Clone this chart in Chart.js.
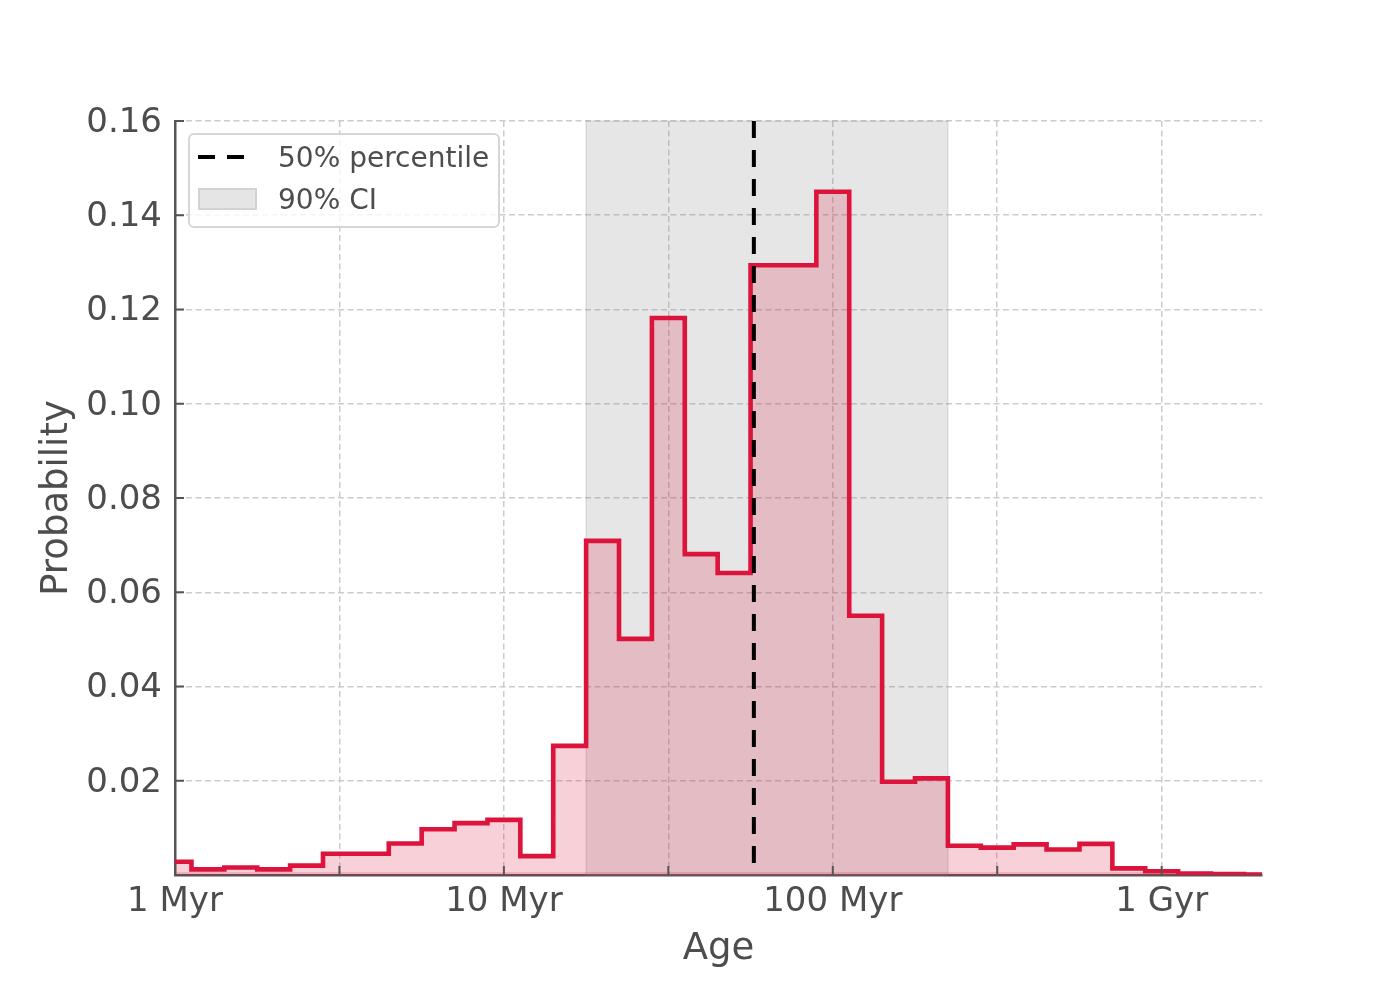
<!DOCTYPE html>
<html>
<head>
<meta charset="utf-8">
<script src="https://cdn.jsdelivr.net/npm/chart.js@4.4.0/dist/chart.umd.min.js"></script>
<style>
  html, body { margin: 0; padding: 0; background: #fff; }
  #wrap { width: 1400px; height: 1000px; }
</style>
</head>
<body>
<div id="wrap"><canvas id="ageChart"></canvas></div>
<script>
/* ===== DATA ===== */

// log10(age / yr) at the centre of each 0.1 dex bin
const logAgeBins = [
  6.0, 6.1, 6.2, 6.3, 6.4, 6.5, 6.6, 6.7, 6.8, 6.9,
  7.0, 7.1, 7.2, 7.3, 7.4, 7.5, 7.6, 7.7, 7.8, 7.9,
  8.0, 8.1, 8.2, 8.3, 8.4, 8.5, 8.6, 8.7, 8.8, 8.9,
  9.0, 9.1, 9.2, 9.3,
];

// probability per bin
const probability = [
  0.0028, 0.0012, 0.0016, 0.0012, 0.0020, 0.0045, 0.0045, 0.0067, 0.0097, 0.0110,
  0.0117, 0.0040, 0.0274, 0.0709, 0.0501, 0.1182, 0.0681, 0.0641, 0.1294, 0.1294,
  0.1450, 0.0550, 0.0198, 0.0205, 0.0062, 0.0058, 0.0065, 0.0054, 0.0066, 0.0014,
  0.0008, 0.0003, 0.0002, 0.0001,
];

const binHalfWidth = 0.05;
const medianLogAge = 7.76;
const ciLogAge = [7.25, 8.35];

const xRange = [6, 9.305];
const xTickValues = [6, 6.5, 7, 7.5, 8, 8.5, 9];
const xTickLabels = { 6: '1 Myr', 7: '10 Myr', 8: '100 Myr', 9: '1 Gyr' };
const yTickValues = [0, 0.02, 0.04, 0.06, 0.08, 0.10, 0.12, 0.14, 0.16];

/* ===== STYLE ===== */

const FONT_FAMILY = '"DejaVu Sans", sans-serif';
const TEXT_COLOR = '#4d4d4d';
const GRID_COLOR = '#cccccc';
const SPINE_COLOR = '#555555';
const HIST_COLOR = '#dc143c';

/* ===== PLUGINS ===== */

// 90% CI band behind the histogram
const ciSpanPlugin = {
  id: 'ciSpan',
  beforeDatasetsDraw(chart) {
    const { ctx, chartArea, scales: { x } } = chart;
    const x0 = x.getPixelForValue(ciLogAge[0]);
    const x1 = x.getPixelForValue(ciLogAge[1]);
    ctx.save();
    ctx.fillStyle = 'rgba(128,128,128,0.2)';
    ctx.fillRect(x0, chartArea.top, x1 - x0, chartArea.height);
    ctx.strokeStyle = 'rgba(128,128,128,0.2)';
    ctx.lineWidth = 1.5;
    ctx.strokeRect(x0, chartArea.top, x1 - x0, chartArea.height);
    ctx.restore();
  }
};

// thin darker strip along the bottom of the filled histogram
const histBaseStrip = {
  id: 'histBaseStrip',
  afterDatasetsDraw(chart) {
    const { ctx, chartArea } = chart;
    ctx.save();
    ctx.fillStyle = 'rgba(220,20,60,0.18)';
    ctx.fillRect(chartArea.left, chartArea.bottom - 3, chartArea.width, 3);
    ctx.restore();
  }
};

// inward tick marks (matplotlib style)
const innerTicksPlugin = {
  id: 'innerTicks',
  afterDatasetsDraw(chart) {
    const { ctx, chartArea, scales: { x, y } } = chart;
    ctx.save();
    ctx.strokeStyle = SPINE_COLOR;
    ctx.lineWidth = 2;
    ctx.beginPath();
    xTickValues.forEach(v => {
      const px = x.getPixelForValue(v);
      ctx.moveTo(px, chartArea.bottom);
      ctx.lineTo(px, chartArea.bottom - 9);
    });
    yTickValues.forEach(v => {
      const py = y.getPixelForValue(v);
      ctx.moveTo(chartArea.left, py);
      ctx.lineTo(chartArea.left + 9, py);
    });
    ctx.stroke();
    ctx.restore();
  }
};

// legend box in the upper-left corner of the plot
const legendBoxPlugin = {
  id: 'legendBox',
  afterDraw(chart) {
    const { ctx, chartArea } = chart;
    const bx = chartArea.left + 14, by = chartArea.top + 13;
    const bw = 310, bh = 93;
    ctx.save();
    ctx.beginPath();
    ctx.roundRect(bx, by, bw, bh, 5);
    ctx.fillStyle = 'rgba(255,255,255,0.8)';
    ctx.fill();
    ctx.strokeStyle = '#d6d6d6';
    ctx.lineWidth = 2;
    ctx.stroke();

    // dashed line sample
    ctx.beginPath();
    ctx.setLineDash([17, 12]);
    ctx.strokeStyle = '#000';
    ctx.lineWidth = 4;
    ctx.moveTo(bx + 9, by + 23);
    ctx.lineTo(bx + 58, by + 23);
    ctx.stroke();
    ctx.setLineDash([]);

    // shaded patch sample
    ctx.fillStyle = '#e5e5e5';
    ctx.fillRect(bx + 10, by + 55, 57, 20);
    ctx.strokeStyle = '#d2d2d2';
    ctx.lineWidth = 2;
    ctx.strokeRect(bx + 10, by + 55, 57, 20);

    ctx.fillStyle = TEXT_COLOR;
    ctx.font = '28px ' + FONT_FAMILY;
    ctx.textBaseline = 'middle';
    ctx.textAlign = 'left';
    ctx.fillText('50% percentile', bx + 89, by + 26);
    ctx.fillText('90% CI', bx + 89, by + 68);
    ctx.restore();
  }
};

/* ===== CHART ===== */

(function() {
  const el = document.getElementById('ageChart');
  if (!el) return;

  // step outline: two points per bin (left edge, right edge)
  const histPoints = [];
  logAgeBins.forEach((c, i) => {
    histPoints.push({ x: c - binHalfWidth, y: probability[i] });
    histPoints.push({ x: c + binHalfWidth, y: probability[i] });
  });

  const yTop = yTickValues[yTickValues.length - 1];

  new Chart(el, {
    type: 'line',
    data: {
      datasets: [
        {
          label: '50% percentile',
          data: [{ x: medianLogAge, y: yTop }, { x: medianLogAge, y: 0 }],
          borderColor: '#000000',
          borderWidth: 4,
          borderDash: [17, 12],
          pointRadius: 0,
          fill: false,
          order: 0,
        },
        {
          label: 'Age PDF',
          data: histPoints,
          borderColor: HIST_COLOR,
          backgroundColor: 'rgba(220,20,60,0.2)',
          borderWidth: 4.6,
          borderJoinStyle: 'miter',
          pointRadius: 0,
          tension: 0,
          fill: 'origin',
          clip: 0,
          order: 1,
        },
      ]
    },
    options: {
      responsive: true,
      maintainAspectRatio: false,
      animation: false,
      layout: { padding: { top: 121, right: 138, bottom: 0, left: 0 } },
      plugins: {
        legend: { display: false },
        tooltip: { enabled: false },
      },
      scales: {
        x: {
          type: 'linear',
          min: xRange[0],
          max: xRange[1],
          afterBuildTicks(scale) { scale.ticks = xTickValues.map(v => ({ value: v })); },
          afterFit(scale) { scale.height = 125; },
          grid: { color: GRID_COLOR, lineWidth: 1.5, drawTicks: false },
          border: { display: true, color: SPINE_COLOR, width: 2.5, dash: [6, 3.5] },
          ticks: {
            autoSkip: false,
            maxRotation: 0,
            padding: 7,
            font: { family: FONT_FAMILY, size: 34 },
            color: TEXT_COLOR,
            callback(v) { return xTickLabels[v] || ''; }
          },
          title: {
            display: true,
            text: 'Age',
            font: { family: FONT_FAMILY, size: 37 },
            color: TEXT_COLOR,
            padding: { top: 0, bottom: 28 },
          }
        },
        y: {
          min: yTickValues[0],
          max: yTop,
          afterBuildTicks(scale) { scale.ticks = yTickValues.map(v => ({ value: v })); },
          afterFit(scale) { scale.width = 175; },
          grid: { color: GRID_COLOR, lineWidth: 1.5, drawTicks: false },
          border: { display: true, color: SPINE_COLOR, width: 2.5, dash: [6, 3.5] },
          ticks: {
            padding: 13,
            labelOffset: 2,
            font: { family: FONT_FAMILY, size: 34 },
            color: TEXT_COLOR,
            callback(v) { return v === 0 ? '' : v.toFixed(2); }
          },
          title: {
            display: true,
            text: 'Probability',
            font: { family: FONT_FAMILY, size: 37 },
            color: TEXT_COLOR,
            padding: { top: 35, bottom: 0 },
          }
        }
      }
    },
    plugins: [ciSpanPlugin, histBaseStrip, innerTicksPlugin, legendBoxPlugin]
  });
})();
</script>
</body>
</html>
